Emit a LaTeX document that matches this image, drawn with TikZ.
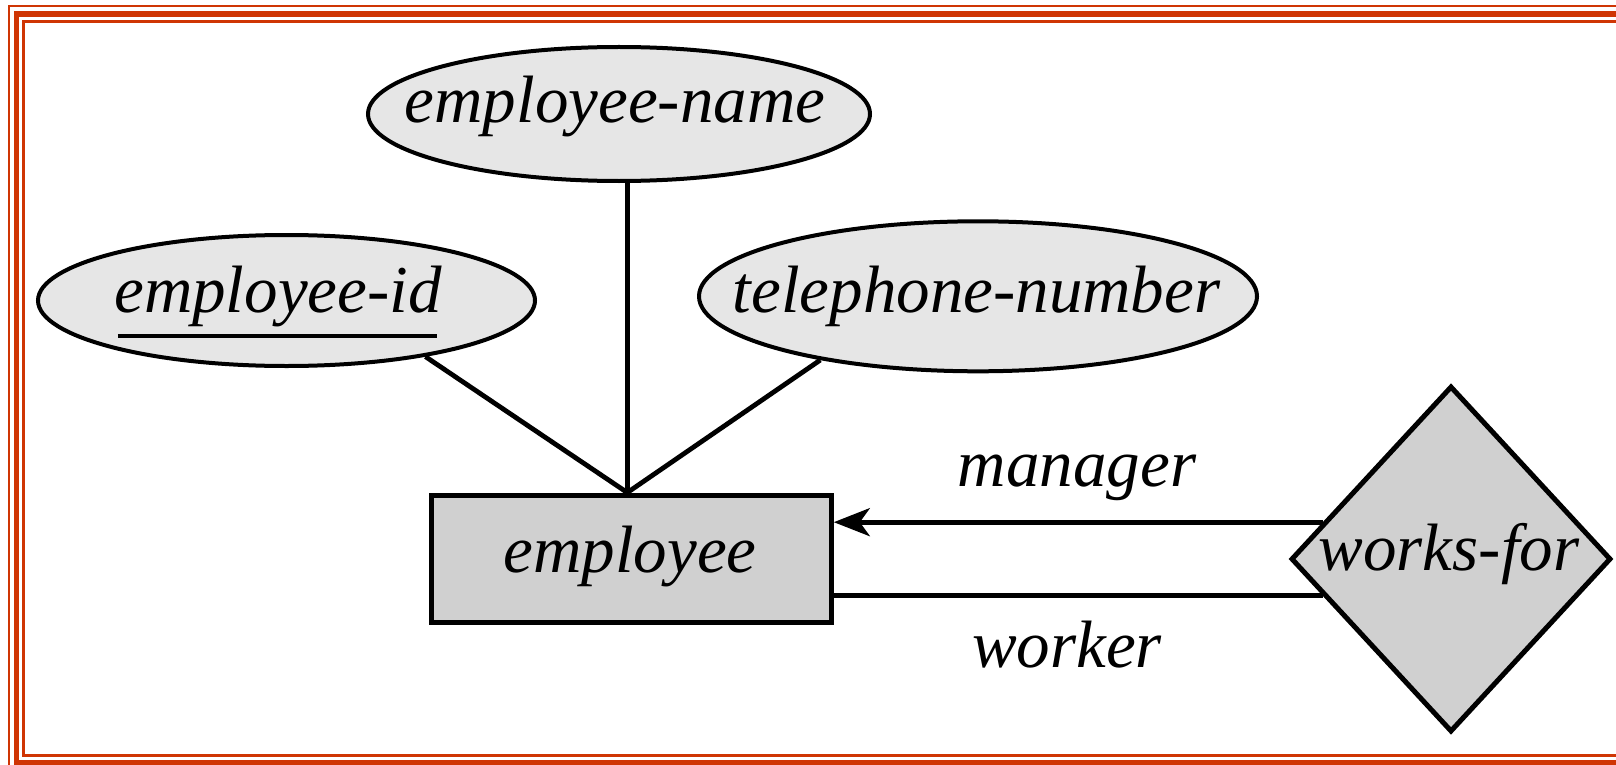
\documentclass[tikz,border=0pt]{standalone}
\usepackage{fontspec}
\setmainfont{Liberation Serif}
\usetikzlibrary{shapes.geometric,arrows.meta}
\definecolor{framered}{RGB}{207,53,4}
\definecolor{attrfill}{RGB}{230,230,230}
\definecolor{entfill}{RGB}{208,208,208}
\begin{document}
\begin{tikzpicture}[x=0.5pt,y=-0.5pt,
  lbl/.style={font=\fontsize{33.5}{40}\selectfont\itshape, inner sep=0pt, anchor=base},
  attr/.style={ellipse, draw, line width=2pt, fill=attrfill, inner sep=0pt},
  ent/.style={rectangle, draw, line width=2.5pt, fill=entfill, inner sep=0pt},
  rel/.style={diamond, draw, line width=2.5pt, fill=entfill, inner sep=0pt},
  conn/.style={line width=2.4pt}]
\useasboundingbox (0,0) rectangle (1616,765);
\begin{scope}
\clip (0,0) rectangle (1616,765);
\draw[framered, line width=1pt] (9,6.3) rectangle (1650,800);
\draw[framered, line width=2.8pt] (16.5,14) rectangle (1640,762.5);
\draw[framered, line width=1.5pt] (23.5,21.5) rectangle (1625,755);
\end{scope}
% attributes
\node[attr, minimum width=251pt, minimum height=67pt] (ename) at (619,114) {};
\node[lbl] (enametxt) at (615,123) {employee-name};
\node[attr, minimum width=248.5pt, minimum height=65.5pt] (eid) at (286.5,300.5) {};
\node[lbl] (eidtxt) at (278,312) {employee-id};
\draw[line width=1.6pt] ([shift={(4,24)}]eidtxt.base west) -- ([shift={(-5,24)}]eidtxt.base east);
\node[attr, minimum width=279pt, minimum height=75pt] (tel) at (978,296.3) {};
\node[lbl] (teltxt) at (976.5,312) {telephone-number};
% entity
\node[ent, minimum width=200pt, minimum height=63.5pt] (emp) at (631.3,558.6) {};
\node[lbl] (emptxt) at (630,572) {employee};
% relationship
\node[rel, minimum width=160pt, minimum height=173pt] (wf) at (1451,559) {};
\node[lbl] (wftxt) at (1449,570) {works-for};
% connectors
\coordinate (hub) at ([xshift=-2pt]emp.north);
\draw[conn] (hub) -- (hub |- ename.south);
\draw[conn] (hub) -- (eid.-22.6);
\draw[conn] (hub) -- (tel.202.8);
\draw[conn, -{Stealth[length=18pt,width=14pt,inset=5pt]}] (wf.164.9) -- (emp.east |- wf.164.9);
\draw[conn] (wf.196.2) -- (emp.east |- wf.196.2);
\node[lbl] (mgr) at (1077,486) {manager};
\node[lbl] (wkr) at (1067,667) {worker};
\end{tikzpicture}
\end{document}
